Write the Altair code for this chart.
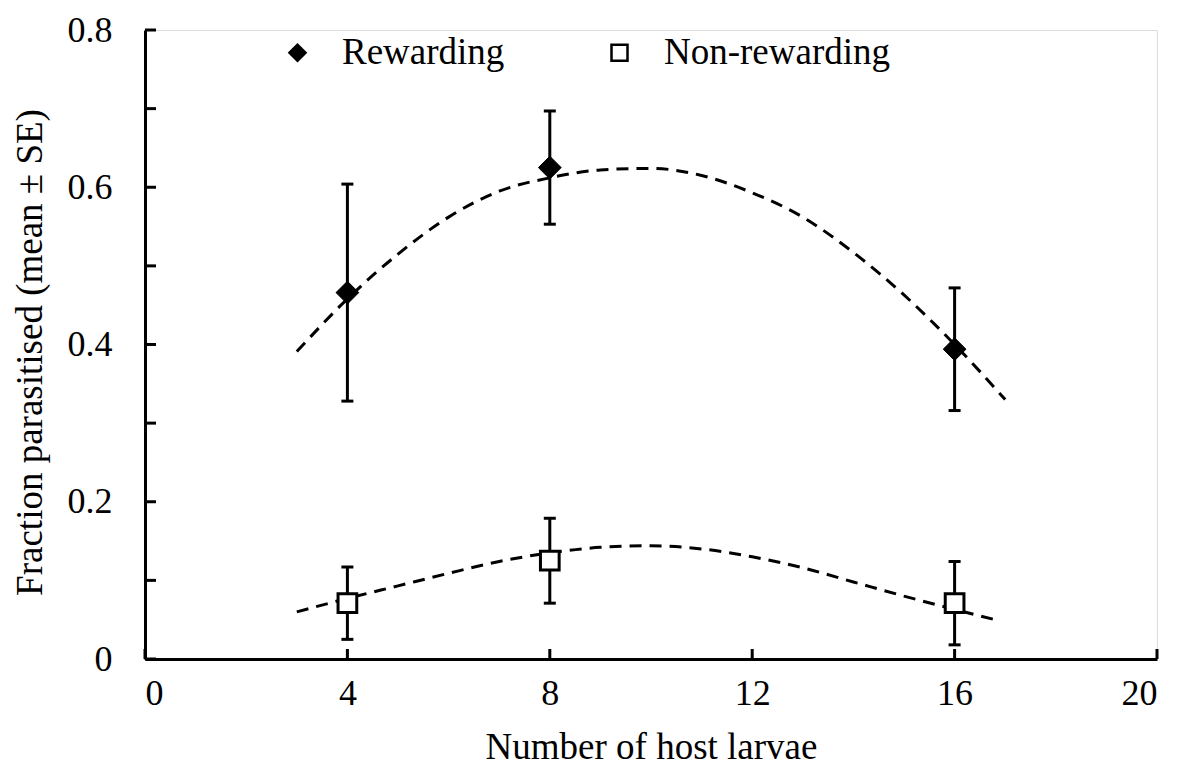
import altair as alt
import pandas as pd

# ---- data ----
series_names = ["Rewarding", "Non-rewarding"]
hosts = [4, 8, 16]
rew_mean = [0.466, 0.625, 0.394]
rew_se = [0.138, 0.072, 0.078]
non_mean = [0.071, 0.125, 0.071]
non_se = [0.046, 0.054, 0.053]

# dashed fitted curves
rew_fit_x = [3, 4, 5, 6, 7, 8, 9, 10, 11, 12, 13, 14, 15, 16, 17]
rew_fit_y = [0.391, 0.458, 0.515, 0.562, 0.595, 0.612, 0.622, 0.624, 0.615, 0.593, 0.562, 0.517, 0.463, 0.400, 0.330]
non_fit_x = [3, 4, 5, 6, 7, 8, 9, 10, 11, 12, 13, 14, 15, 16, 16.8]
non_fit_y = [0.060, 0.077, 0.093, 0.109, 0.124, 0.135, 0.142, 0.144, 0.140, 0.130, 0.116, 0.098, 0.080, 0.063, 0.050]

x_ticks = [0, 4, 8, 12, 16, 20]
y_ticks = [0, 0.1, 0.2, 0.3, 0.4, 0.5, 0.6, 0.7, 0.8]

FONT = "Liberation Serif, Times New Roman, serif"
FS = 36
TFS = 37

# ---- tables ----
pts = pd.DataFrame({
    "x": hosts * 2,
    "mean": rew_mean + non_mean,
    "se": rew_se + non_se,
    "series": [series_names[0]] * 3 + [series_names[1]] * 3,
})
pts["lo"] = pts["mean"] - pts["se"]
pts["hi"] = pts["mean"] + pts["se"]

fit = pd.DataFrame({
    "x": rew_fit_x + non_fit_x,
    "y": rew_fit_y + non_fit_y,
    "series": [series_names[0]] * len(rew_fit_x) + [series_names[1]] * len(non_fit_x),
})

xs = alt.Scale(domain=[0, 20], nice=False)
ys = alt.Scale(domain=[0, 0.8], nice=False)

W, H = 1012, 629

xa = alt.Axis(
    values=x_ticks, ticks=False, grid=False, domainColor="black", domainWidth=3,
    labelFont=FONT, labelFontSize=FS, labelColor="black", labelPadding=17,
    title="Number of host larvae", titleFont=FONT, titleFontSize=TFS,
    titleFontWeight="normal", titleColor="black",
    titleX=W / 2, titleY=88, titleBaseline="middle")
ya = alt.Axis(
    values=y_ticks, ticks=False, grid=False, domainColor="black", domainWidth=3,
    labelFont=FONT, labelFontSize=FS, labelColor="black", labelPadding=33,
    labelExpr="round(datum.value*10) % 2 == 0 ? (datum.value == 0 ? '0' : format(datum.value, '.1f')) : ''",
    title="Fraction parasitised (mean ± SE)", titleFont=FONT, titleFontSize=TFS,
    titleFontWeight="normal", titleColor="black",
    titleX=-115, titleY=322, titleBaseline="middle", titleAlign="center")

curves = alt.Chart(fit).mark_line(
    color="black", strokeWidth=3, strokeDash=[12, 8], interpolate="monotone"
).encode(
    x=alt.X("x:Q", scale=xs, axis=xa),
    y=alt.Y("y:Q", scale=ys, axis=ya),
    detail="series:N",
)

ytick_marks = alt.Chart(pd.DataFrame({"v": y_ticks})).mark_rule(
    color="black", strokeWidth=3
).encode(
    y=alt.Y("v:Q", scale=ys, axis=ya),
    x=alt.value(0), x2=alt.value(11),
)

xtick_marks = alt.Chart(pd.DataFrame({"v": x_ticks})).mark_rule(
    color="black", strokeWidth=3
).encode(
    x=alt.X("v:Q", scale=xs, axis=xa),
    y=alt.value(H), y2=alt.value(H - 10),
)

err = alt.Chart(pts).mark_rule(color="black", strokeWidth=3).encode(
    x=alt.X("x:Q", scale=xs, axis=xa),
    y=alt.Y("lo:Q", scale=ys, axis=ya),
    y2="hi:Q",
)

caps = alt.Chart(pts).transform_fold(["lo", "hi"], as_=["end", "val"]).mark_tick(
    color="black", orient="horizontal", size=12, thickness=3, opacity=1
).encode(
    x=alt.X("x:Q", scale=xs, axis=xa),
    y=alt.Y("val:Q", scale=ys, axis=ya),
)

leg = alt.Legend(
    title=None, orient="none", legendX=134, legendY=4, direction="horizontal",
    labelFont=FONT, labelFontSize=TFS, labelColor="black", labelOffset=26, labelLimit=0,
    columnPadding=96, symbolSize=256, symbolStrokeColor="black",
    symbolStrokeWidth=2.5, padding=0,
)
shape_enc = alt.Shape("series:N", scale=alt.Scale(domain=series_names, range=["diamond", "square"]), legend=leg)
fill_enc = alt.Fill("series:N", scale=alt.Scale(domain=series_names, range=["black", "white"]), legend=leg)
stroke_enc = alt.Stroke("series:N", scale=alt.Scale(domain=series_names, range=["black", "black"]), legend=leg)

diamonds = alt.Chart(pts).transform_filter(
    alt.datum.series == series_names[0]
).mark_point(filled=True, size=520, strokeWidth=1, opacity=1).encode(
    x=alt.X("x:Q", scale=xs, axis=xa),
    y=alt.Y("mean:Q", scale=ys, axis=ya),
    shape=shape_enc, fill=fill_enc, stroke=stroke_enc,
)

squares = alt.Chart(pts).transform_filter(
    alt.datum.series == series_names[1]
).mark_point(filled=True, size=350, strokeWidth=3, opacity=1).encode(
    x=alt.X("x:Q", scale=xs, axis=xa),
    y=alt.Y("mean:Q", scale=ys, axis=ya),
    shape=shape_enc, fill=fill_enc, stroke=stroke_enc,
)

chart = alt.layer(curves, ytick_marks, xtick_marks, err, caps, diamonds, squares).properties(
    width=W, height=H,
    autosize=alt.AutoSizeParams(type="none"),
    padding={"left": 145, "top": 30, "right": 27, "bottom": 110},
).configure_view(strokeWidth=0, stroke="transparent").configure(background="white")

chart.save("out.html", embed_options={"renderer": "svg", "actions": False})
